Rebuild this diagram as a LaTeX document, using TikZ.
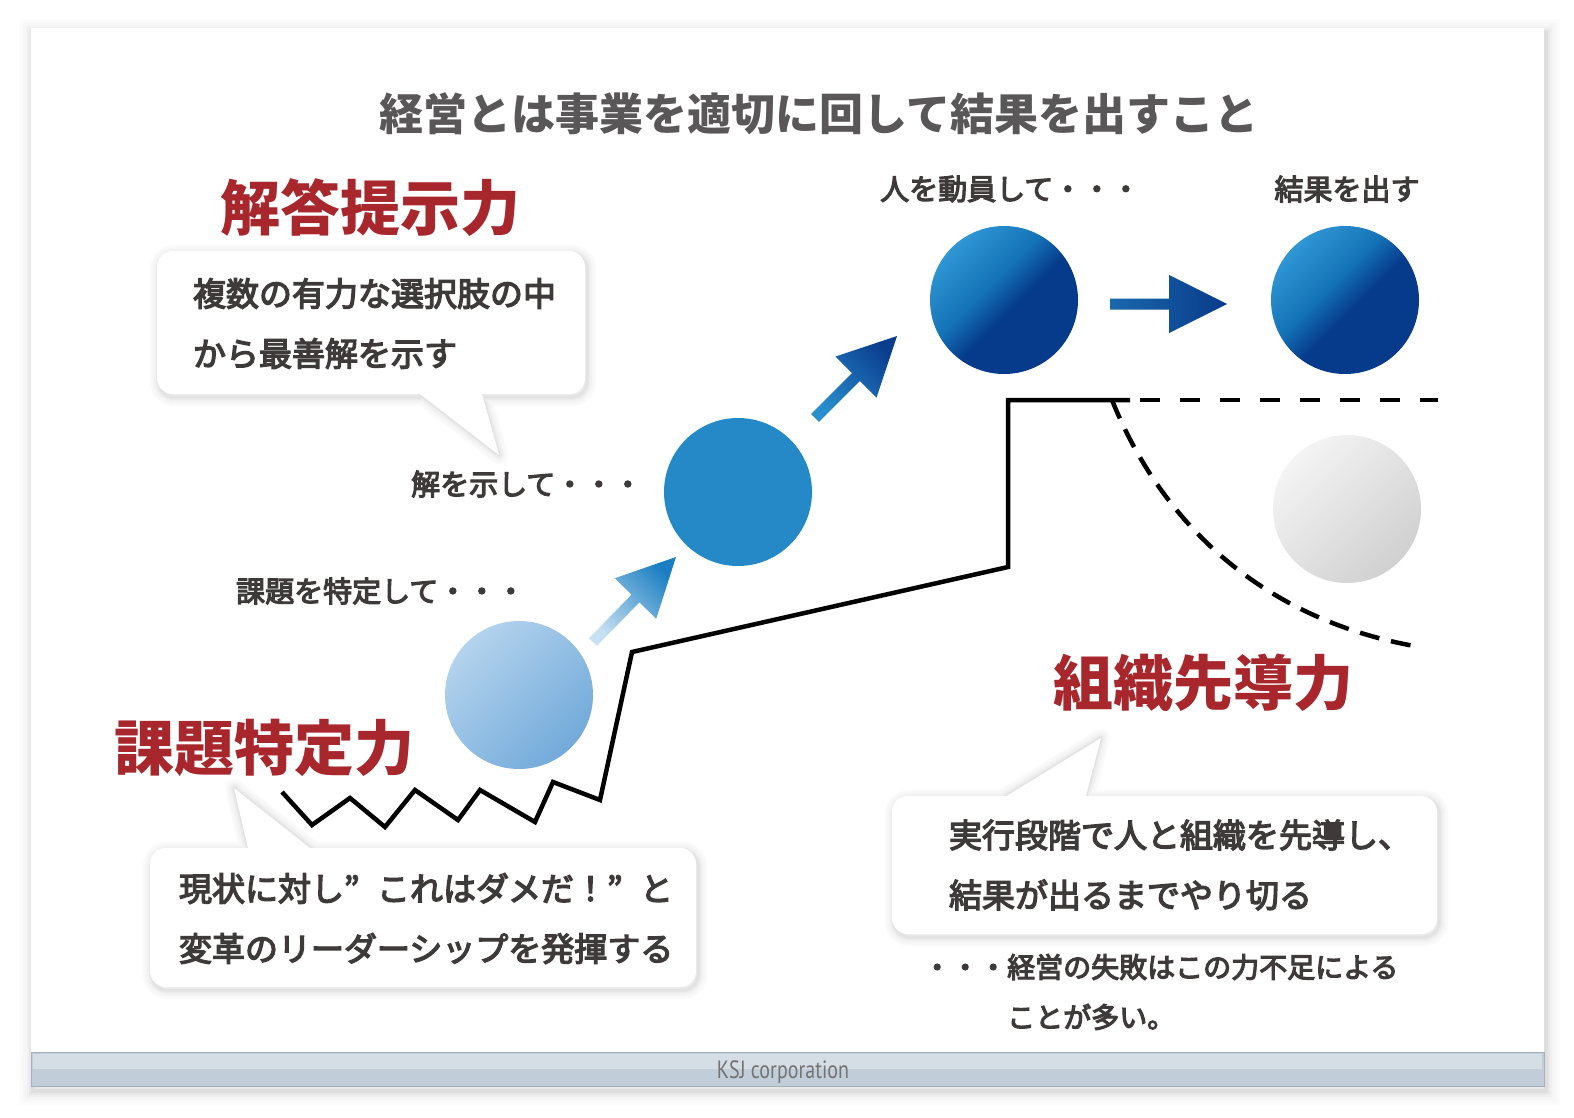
\documentclass[tikz,border=0pt]{standalone}
\usepackage{fontspec}
\setmainfont{Noto Sans CJK JP}
\newfontfamily\jpmed[FakeBold=4]{Noto Sans CJK JP}
\newfontfamily\footfont[FakeStretch=0.8]{PT Sans}
\usetikzlibrary{calc}
\definecolor{titlegray}{HTML}{595757}
\definecolor{txt}{HTML}{3E3A39}
\definecolor{kred}{HTML}{A8272D}
\definecolor{navy}{HTML}{063B8B}
\definecolor{midb}{HTML}{1473B7}
\definecolor{lightb}{HTML}{3096D4}
\definecolor{footlow}{HTML}{C1CED9}
\definecolor{foothigh}{HTML}{D5DDE5}
\definecolor{footline}{HTML}{A7B0B8}
\pgfdeclareverticalshading{darkball}{100bp}{color(0bp)=(navy); color(46bp)=(navy); color(57bp)=(midb); color(75bp)=(lightb); color(100bp)=(lightb)}
\pgfdeclarelayer{page}\pgfdeclarelayer{shad}
\pgfsetlayers{page,shad,main}
\tikzset{
 ball/.style={circle, minimum size=148pt, inner sep=0pt},
 bubble/.style={fill=white, rounded corners=16pt, inner sep=0pt},
 bubtext/.style={anchor=west, inner sep=0pt, align=left, font=\jpmed\fontsize{33}{60}\selectfont, text=txt},
 redhead/.style={font=\fontsize{60}{60}\selectfont\bfseries, text=kred, inner sep=0pt},
 lbl/.style={font=\jpmed\fontsize{29}{29}\selectfont, text=txt, inner sep=0pt, anchor=west},
 stepline/.style={line width=4.5pt, line join=miter, draw=black},
}
\newcommand\blockarrow[3]{%
  \coordinate (#1-hb) at ($(#2)!58pt!(#1)$);
  \path[#3] ($(#1)!5.5pt!90:(#2)$) -- ($(#1-hb)!5.5pt!90:(#2)$) -- ($(#1-hb)!29pt!90:(#2)$) -- (#2)
    -- ($(#1-hb)!29pt!-90:(#2)$) -- ($(#1-hb)!5.5pt!-90:(#2)$) -- ($(#1)!5.5pt!-90:(#2)$) -- cycle;
}
\begin{document}
\begin{tikzpicture}[x=1pt,y=-1pt]
\useasboundingbox (0,0) rectangle (1574,1118);
% ---------- slide ----------
\begin{pgfonlayer}{page}
  \fill[white] (0,0) rectangle (1574,1118);
  \foreach \w/\c in {28/1,24/2,20/3,16/4,12/6,8/9,4/13}
    \draw[line width=\w pt, draw=black!\c] (33,33) rectangle (1546,1091);
  \fill[white] (31,28) rectangle (1544,1086);
  \fill[footlow] (31,1052) rectangle (1544,1086);
  \fill[foothigh] (33,1054) rectangle (1542,1069);
  \draw[footline, line width=1pt] (31,1052) rectangle (1544,1086);
\end{pgfonlayer}
\node[font=\footfont\fontsize{25}{25}\selectfont, text=black!55, inner sep=0pt] (foot) at (783,1072) {KSJ corporation};

% ---------- title ----------
\node[font=\fontsize{44}{44}\selectfont\bfseries, text=titlegray, inner sep=0pt] (title) at (819,114) {経営とは事業を適切に回して結果を出すこと};

% ---------- bubbles ----------
\node[bubble, minimum width=428pt, minimum height=143pt] (b1) at (371,322.5) {};
\node[bubble, minimum width=546pt, minimum height=139pt] (b2) at (423,917.5) {};
\node[bubble, minimum width=545pt, minimum height=138pt] (b3) at (1164.5,865) {};
\coordinate (t1) at (499,455);
\coordinate (t2) at (234,788);
\coordinate (t3) at (1101,738);
\fill[white] ($(b1.south west)+(253,-8)$) -- (t1) -- ($(b1.south west)+(323,-8)$) -- cycle;
\fill[white] ($(b2.north west)+(100,8)$) -- (t2) -- ($(b2.north west)+(170,8)$) -- cycle;
\fill[white] ($(b3.north west)+(102,8)$) -- (t3) -- ($(b3.north west)+(192,8)$) -- cycle;
\begin{pgfonlayer}{shad}
  \foreach \w/\c in {18/2,14/3,10/5,6/8,3/11} {
    \foreach \b in {b1,b2,b3}
      \draw[line width=\w pt, draw=black!\c, rounded corners=16pt] ([shift={(2,3)}]\b.north west) rectangle ([shift={(2,3)}]\b.south east);
    \draw[line width=\w pt, draw=black!\c, line join=round, shift={(2,3)}] ($(b1.south west)+(253,-8)$) -- (t1) -- ($(b1.south west)+(323,-8)$) -- cycle;
    \draw[line width=\w pt, draw=black!\c, line join=round, shift={(2,3)}] ($(b2.north west)+(100,8)$) -- (t2) -- ($(b2.north west)+(170,8)$) -- cycle;
    \draw[line width=\w pt, draw=black!\c, line join=round, shift={(2,3)}] ($(b3.north west)+(102,8)$) -- (t3) -- ($(b3.north west)+(192,8)$) -- cycle;
  }
\end{pgfonlayer}
\node[bubtext] (b1t) at ($(b1.west)+(36,1)$) {複数の有力な選択肢の中\\から最善解を示す};
\node[bubtext] (b2t) at ($(b2.west)+(29,1)$) {現状に対し\makebox[1em][l]{”}これはダメだ！\makebox[1em][l]{”}と\\変革のリーダーシップを発揮する};
\node[bubtext] (b3t) at ($(b3.west)+(57,0)$) {実行段階で人と組織を先導し、\\結果が出るまでやり切る};

% ---------- headings ----------
\node[redhead] (h1) at (370,208) {解答提示力};
\node[redhead] (h2) at (264,748) {課題特定力};
\node[redhead] (h3) at (1203,683) {組織先導力};

% ---------- labels ----------
\node[lbl] (l1) at (236,591) {課題を特定して・・・};
\node[lbl] (l2) at (411,484) {解を示して・・・};
\node[lbl] (l3) at (880,189) {人を動員して・・・};
\node[lbl, anchor=center] (l4) at (1347,189) {結果を出す};
\node[lbl, font=\jpmed\fontsize{28}{50}\selectfont, align=left] (note) at (923,992) {・・・経営の失敗はこの力不足による\\\hspace*{3em}ことが多い。};

% ---------- step line ----------
\draw[stepline] (282,792) -- (312,825) -- (350,798) -- (385,827) -- (415,790) -- (458,820) -- (480,790) -- (535,822) -- (553,782) -- (600,800) -- (632,652) -- (1008,567) -- (1008,400) -- (1130,400);
\draw[line width=4.5pt, dash pattern=on 20pt off 20pt] (1140,400) -- (1438,400);
\draw[line width=4.5pt, dash pattern=on 20pt off 12pt] (1112,400) .. controls (1160,520) and (1260,620) .. (1420,647);

% ---------- circles ----------
\node[ball, top color={rgb,255:red,180;green,211;blue,237}, bottom color={rgb,255:red,114;green,170;blue,218}, shading angle=45] (c1) at (519,695) {};
\node[ball, fill={rgb,255:red,37;green,137;blue,200}] (c2) at (738,492) {};
\node[ball, shade, shading=darkball, shading angle=45] (c3) at (1004,300) {};
\node[ball, shade, shading=darkball, shading angle=45] (c4) at (1345,300) {};
\node[ball, top color={rgb,255:red,244;green,244;blue,244}, bottom color={rgb,255:red,208;green,208;blue,209}, shading angle=45] (c5) at (1347,509) {};

% ---------- arrows ----------
\coordinate (a1t) at ($(c1)+(74,-53)$);
\coordinate (a1p) at ($(c2)+(-62,65)$);
\coordinate (a2t) at ($(c2)+(77,-74)$);
\coordinate (a2p) at ($(c3)+(-107,36)$);
\coordinate (a3t) at ($(c3)+(106,4)$);
\coordinate (a3p) at ($(c4)+(-118,4)$);
\blockarrow{a1t}{a1p}{bottom color={rgb,255:red,200;green,224;blue,243}, top color={rgb,255:red,26;green,126;blue,194}, shading angle=-45}
\blockarrow{a2t}{a2p}{bottom color={rgb,255:red,40;green,142;blue,206}, top color={rgb,255:red,10;green,61;blue,142}, shading angle=-45}
\blockarrow{a3t}{a3p}{left color={rgb,255:red,26;green,104;blue,172}, right color={rgb,255:red,8;green,59;blue,139}}
\end{tikzpicture}
\end{document}
